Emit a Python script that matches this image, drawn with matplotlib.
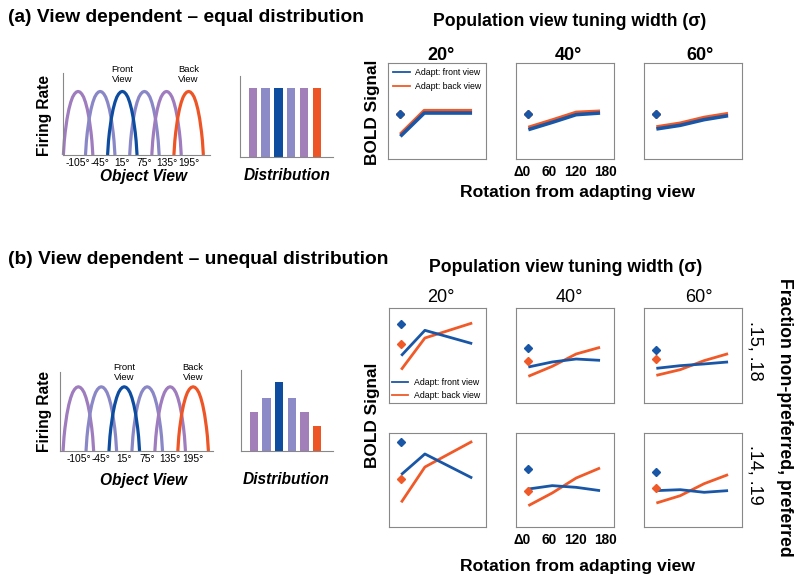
import numpy as np
import matplotlib
matplotlib.use("Agg")
import matplotlib.pyplot as plt
from matplotlib.lines import Line2D
from matplotlib.transforms import ScaledTranslation

plt.rcParams['font.family'] = ['Liberation Sans', 'DejaVu Sans']

# ---------------- data ----------------
view_centers = [-105, -45, 15, 75, 135, 195]
view_labels = ['-105°', '-45°', '15°', '75°', '135°', '195°']
# tuning-curve profile (offset in deg, relative height)
profile_off = [-40, -37.5, -35, -30, -25, -20, -15, -10, -5, 0, 5, 10, 15, 20, 25, 30, 35, 37.5, 40]
profile_h = [0.0, 0.22, 0.36, 0.57, 0.72, 0.83, 0.91, 0.96, 0.99, 1.0, 0.99, 0.96, 0.91, 0.83, 0.72, 0.57, 0.36, 0.22, 0.0]

dist_equal = [1/6, 1/6, 1/6, 1/6, 1/6, 1/6]
dist_unequal = [0.14, 0.19, 0.25, 0.19, 0.14, 0.09]

widths = ['20°', '40°', '60°']
rotation = [0, 60, 120, 180]
rot_labels = ['Δ0', '60', '120', '180']

# (a) equal distribution
a_diam_front = [0.472, 0.472, 0.472]
a_diam_back = [0.472, 0.472, 0.472]
a_front = [[0.236, 0.479, 0.479, 0.479],
           [0.306, 0.382, 0.462, 0.479],
           [0.313, 0.351, 0.410, 0.451]]
a_back = [[0.257, 0.503, 0.503, 0.503],
          [0.328, 0.405, 0.485, 0.497],
          [0.333, 0.372, 0.432, 0.472]]

# (b) unequal distribution, row 1 (.15, .18)
b1_diam_front = [0.835, 0.575, 0.554]
b1_diam_back = [0.618, 0.446, 0.463]
b1_front = [[0.498, 0.765, 0.695, 0.625],
            [0.379, 0.432, 0.463, 0.449],
            [0.365, 0.393, 0.411, 0.432]]
b1_back = [[0.351, 0.684, 0.763, 0.842],
           [0.281, 0.386, 0.516, 0.586],
           [0.291, 0.351, 0.446, 0.519]]
# row 2 (.14, .19)
b2_diam_front = [0.908, 0.617, 0.589]
b2_diam_back = [0.511, 0.379, 0.415]
b2_front = [[0.557, 0.777, 0.649, 0.521],
            [0.404, 0.440, 0.422, 0.387],
            [0.387, 0.397, 0.369, 0.387]]
b2_back = [[0.262, 0.638, 0.775, 0.911],
           [0.227, 0.362, 0.521, 0.628],
           [0.255, 0.333, 0.461, 0.557]]
row_labels = ['.15, .18', '.14, .19']

# ---------------- style ----------------
PURPLE = '#9f7cbd'
LAV = '#8a87c6'
BLUE = '#0d4c9f'
ORANGE = '#ee5526'
LBLUE = '#1a56a6'
LORANGE = '#f05a28'
curve_colors = [PURPLE, LAV, BLUE, LAV, PURPLE, ORANGE]
bar_colors = ['#a27fb8', '#8c8bc8', BLUE, '#8c8bc8', '#a27fb8', ORANGE]
SPINE = '#888888'
tick_nudge_px = [-6, -3, -1, 5]   # horizontal nudges of the rotation tick labels

W, H = 800, 587
fig = plt.figure(figsize=(W / 100, H / 100), dpi=100)


def px_axes(x0, y0, x1, y1):
    return fig.add_axes([x0 / W, 1 - y1 / H, (x1 - x0) / W, (y1 - y0) / H])


def ftext(x, y, s, **kw):
    kw.setdefault('ha', 'center')
    kw.setdefault('va', 'center')
    fig.text(x / W, 1 - y / H, s, **kw)


def tuning_panel(box, xlim, ylim, ylab_y):
    ax = px_axes(*box)
    order = [0, 1, 3, 4, 2, 5]
    for i in order:
        c = view_centers[i]
        ax.plot([c + o for o in profile_off], profile_h, color=curve_colors[i],
                lw=2.3, solid_capstyle='butt', clip_on=False)
    ax.set_xlim(*xlim)
    ax.set_ylim(*ylim)
    for s in ['top', 'right']:
        ax.spines[s].set_visible(False)
    for s in ['left', 'bottom']:
        ax.spines[s].set_color(SPINE)
        ax.spines[s].set_linewidth(0.8)
    ax.set_yticks([])
    ax.set_xticks(view_centers)
    ax.set_xticklabels(view_labels)
    ax.tick_params(axis='x', length=0, pad=2, labelsize=7.4)
    ax.text(view_centers[2], ylab_y, 'Front\nView', ha='center', va='center',
            fontsize=6.8, linespacing=1.05)
    ax.text(view_centers[5], ylab_y, 'Back\nView', ha='center', va='center',
            fontsize=6.8, linespacing=1.05)
    return ax


def dist_panel(box, vals, ymax):
    ax = px_axes(*box)
    ax.bar(range(len(vals)), vals, width=0.65, color=bar_colors)
    ax.set_xlim(-1.0, 6.25)
    ax.set_ylim(0, ymax)
    for s in ['top', 'right']:
        ax.spines[s].set_visible(False)
    for s in ['left', 'bottom']:
        ax.spines[s].set_color(SPINE)
        ax.spines[s].set_linewidth(0.8)
    ax.set_xticks([])
    ax.set_yticks([])
    return ax


def bold_panel(box, front, back, dfront, dback, lw, ticks=False):
    ax = px_axes(*box)
    ax.plot(rotation, back, color=LORANGE, lw=lw, solid_capstyle='butt')
    ax.plot(rotation, front, color=LBLUE, lw=lw, solid_capstyle='butt')
    ax.plot([0], [dback], marker='D', ms=4.5, color=LORANGE, ls='none')
    ax.plot([0], [dfront], marker='D', ms=4.5, color=LBLUE, ls='none')
    ax.set_xlim(-31, 215)
    ax.set_ylim(0, 1)
    for s in ax.spines.values():
        s.set_color(SPINE)
        s.set_linewidth(0.8)
    ax.set_yticks([])
    if ticks:
        ax.set_xticks(rotation)
        ax.set_xticklabels(rot_labels, fontweight='bold')
        ax.tick_params(axis='x', length=0, pad=4, labelsize=9.8)
        for lab, dx in zip(ax.get_xticklabels(), tick_nudge_px):
            lab.set_transform(lab.get_transform() + ScaledTranslation(dx / 100, 0, fig.dpi_scale_trans))
    else:
        ax.set_xticks([])
    return ax


legend_handles = [Line2D([], [], color=LBLUE, lw=1.3), Line2D([], [], color=LORANGE, lw=1.3)]
legend_labels = ['Adapt: front view', 'Adapt: back view']

# ---------------- (a) ----------------
ftext(8, 18, '(a) View dependent – equal distribution', ha='left', fontsize=13.8, fontweight='bold')
tuning_panel((63, 73, 210, 155), (-146, 253), (0, 1.29), 1.266)
dist_panel((240, 76, 333, 157), dist_equal, 0.195)
ftext(45, 116, 'Firing Rate', rotation=90, fontsize=11.2, fontweight='bold')
ftext(143, 176, 'Object View', fontsize=11.2, fontweight='bold', style='italic')
ftext(287, 176, 'Distribution', fontsize=11.2, fontweight='bold', style='italic')

ftext(570, 22, 'Population view tuning width (σ)', fontsize=12.7, fontweight='bold')
a_boxes = [(388, 63, 486, 159), (516, 63, 614, 159), (644, 63, 742, 159)]
a_title_x = [441, 568, 700]
for k in range(3):
    ax = bold_panel(a_boxes[k], a_front[k], a_back[k], a_diam_front[k], a_diam_back[k],
                    lw=2.6, ticks=(k == 1))
    if k == 0:
        ax.legend(legend_handles, legend_labels, loc='upper left', frameon=False,
                  fontsize=6.3, handlelength=1.9, handletextpad=0.6,
                  labelspacing=0.5, borderaxespad=0.4, borderpad=0.2)
    ftext(a_title_x[k], 56, widths[k], fontsize=13, fontweight='bold')
ftext(372, 112, 'BOLD Signal', rotation=90, fontsize=12.4, fontweight='bold')
ftext(577, 193, 'Rotation from adapting view', fontsize=12.6, fontweight='bold')

# ---------------- (b) ----------------
ftext(8, 259, '(b) View dependent – unequal distribution', ha='left', fontsize=13.8, fontweight='bold')
tuning_panel((60, 372, 213, 451), (-153, 247), (0, 1.23), 1.222)
dist_panel((241, 370, 333, 451), dist_unequal, 0.292)
ftext(45, 411, 'Firing Rate', rotation=90, fontsize=11.2, fontweight='bold')
ftext(143, 480, 'Object View', fontsize=11.2, fontweight='bold', style='italic')
ftext(286, 480, 'Distribution', fontsize=11.2, fontweight='bold', style='italic')

ftext(566, 268, 'Population view tuning width (σ)', fontsize=12.7, fontweight='bold')
b_title_x = [441, 569, 699]
xs = [(389, 486), (516, 614), (644, 742)]
rows = [(308, 403), (433, 527)]
rdata = [(b1_front, b1_back, b1_diam_front, b1_diam_back),
         (b2_front, b2_back, b2_diam_front, b2_diam_back)]
for r in range(2):
    fr, bk, dfr, dbk = rdata[r]
    for k in range(3):
        box = (xs[k][0], rows[r][0], xs[k][1], rows[r][1])
        ax = bold_panel(box, fr[k], bk[k], dfr[k], dbk[k], lw=2.0,
                        ticks=(r == 1 and k == 1))
        if r == 0 and k == 0:
            ax.legend(legend_handles, legend_labels, loc='lower left', frameon=False,
                      fontsize=6.3, handlelength=1.9, handletextpad=0.6,
                      labelspacing=0.5, borderaxespad=0.1, borderpad=0.2)
    ftext(755, (rows[r][0] + rows[r][1]) / 2 - 5, row_labels[r], rotation=-90, fontsize=13)
for k in range(3):
    ftext(b_title_x[k], 298, widths[k], fontsize=13)
ftext(372, 415, 'BOLD Signal', rotation=90, fontsize=12.4, fontweight='bold')
ftext(577, 566, 'Rotation from adapting view', fontsize=12.6, fontweight='bold')
ftext(785, 417, 'Fraction non-preferred, preferred', rotation=-90, fontsize=12.7, fontweight='bold')

fig.savefig('out.png', dpi=100)
